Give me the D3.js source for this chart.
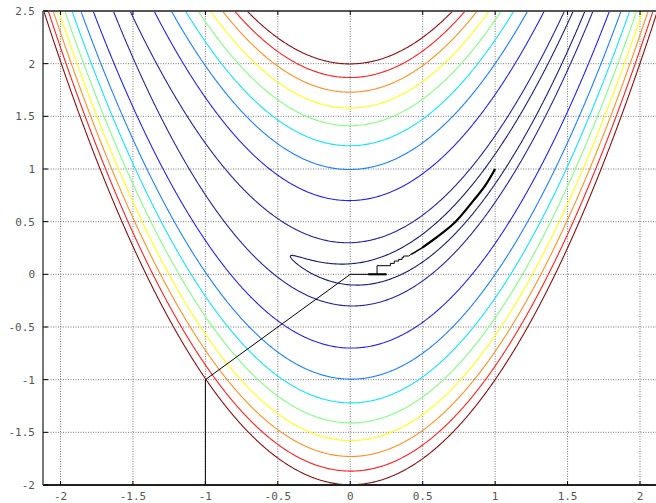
<!DOCTYPE html>
<html>
<head>
<meta charset="utf-8">
<script src="https://cdn.jsdelivr.net/npm/d3@7"></script>
<style>
  body { margin: 0; background: #fff; }
  svg { display: block; }
  .tick-label { font-family: "DejaVu Sans Mono", monospace; font-size: 11px; fill: #555; }
</style>
</head>
<body>
<div id="chart"></div>
<script>
// contour levels of the Rosenbrock function and their colours
var levels = [2, 10, 50, 100, 150, 200, 250, 300, 350, 400];
var levelColors = ["#1a1a78", "#2222a8", "#2424ee", "#1a80ff", "#10e4ff",
                   "#80ff80", "#ffff10", "#ff9020", "#ff2020", "#8a1010"];

// tick labels
var xTicks = [-2, -1.5, -1, -0.5, 0, 0.5, 1, 1.5, 2];
var yTicks = [-2, -1.5, -1, -0.5, 0, 0.5, 1, 1.5, 2, 2.5];

// search path
var pathX = [-1, -1, 0, 0.25, 0.125, 0.185, 0.185, 0.277, 0.277, 0.304, 0.304, 0.334, 0.334, 0.358, 0.358, 0.369, 0.369, 0.403, 0.42];
var pathY = [-2, -1, 0, 0, 0, 0, 0.082, 0.082, 0.104, 0.104, 0.126, 0.126, 0.142, 0.142, 0.161, 0.161, 0.174, 0.174, 0.19];
// final part of the path, dense small steps (drawn heavier)
var tailX = [0.42, 0.5, 0.6, 0.727, 0.85, 0.93, 1.0];
var tailY = [0.19, 0.256, 0.355, 0.5, 0.7, 0.84, 1.0];

var width = 656, height = 503;
var plot = { left: 43, right: 660, top: 11, bottom: 485 };

var svg = d3.select("#chart").append("svg")
    .attr("width", width)
    .attr("height", height);

var x = d3.scaleLinear().domain([-2, 2]).range([60.5, 640]);
var y = d3.scaleLinear().domain([-2, 2.5]).range([485, 11]);

svg.append("clipPath").attr("id", "clip")
    .append("rect")
    .attr("x", plot.left).attr("y", plot.top)
    .attr("width", plot.right - plot.left).attr("height", plot.bottom - plot.top);

// grid
var grid = svg.append("g").attr("class", "grid");
grid.selectAll(".gx").data(xTicks).enter().append("line")
    .attr("x1", function(d) { return x(d); }).attr("x2", function(d) { return x(d); })
    .attr("y1", plot.top).attr("y2", plot.bottom)
    .attr("stroke", "#777").attr("stroke-width", 1)
    .attr("stroke-dasharray", "1,1.5");
grid.selectAll(".gy").data(yTicks).enter().append("line")
    .attr("y1", function(d) { return y(d); }).attr("y2", function(d) { return y(d); })
    .attr("x1", plot.left).attr("x2", plot.right)
    .attr("stroke", "#777").attr("stroke-width", 1)
    .attr("stroke-dasharray", "1,1.5");

// function sampled on a grid a bit larger than the plot so borders stay clipped
function rosen(a, b) { return (1 - a) * (1 - a) + 100 * (b - a * a) * (b - a * a); }
var step = 0.01, gx0 = -2.5, gy0 = -2.4;
var nx = 501, ny = 531;
var values = new Array(nx * ny);
for (var j = 0; j < ny; j++) {
    for (var i = 0; i < nx; i++) {
        values[j * nx + i] = rosen(gx0 + i * step, gy0 + j * step);
    }
}

var contours = d3.contours().size([nx, ny]).thresholds(levels)(values);

var proj = d3.geoTransform({
    point: function(px, py) {
        this.stream.point(x(gx0 + (px - 0.5) * step), y(gy0 + (py - 0.5) * step));
    }
});
var geoPath = d3.geoPath(proj);

svg.append("g")
    .attr("clip-path", "url(#clip)")
    .selectAll("path")
    .data(contours)
    .enter().append("path")
    .attr("d", geoPath)
    .attr("fill", "none")
    .attr("stroke", function(d) { return levelColors[levels.indexOf(d.value)]; })
    .attr("stroke-width", 1.1);

// search path
var line = d3.line()
    .x(function(d) { return x(d[0]); })
    .y(function(d) { return y(d[1]); });

svg.append("path")
    .datum(pathX.map(function(v, i) { return [v, pathY[i]]; }))
    .attr("d", line)
    .attr("fill", "none")
    .attr("stroke", "#000")
    .attr("stroke-width", 1);

var tail = tailX.map(function(v, i) { return [v, tailY[i]]; });
var smooth = d3.line()
    .x(function(d) { return x(d[0]); })
    .y(function(d) { return y(d[1]); })
    .curve(d3.curveCatmullRom);

// first part of the tail is lighter, the rest heavier
svg.append("path")
    .datum(tail.slice(0, 3))
    .attr("d", smooth)
    .attr("fill", "none")
    .attr("stroke", "#000")
    .attr("stroke-width", 1.5);
svg.append("path")
    .datum(tail.slice(1))
    .attr("d", smooth)
    .attr("fill", "none")
    .attr("stroke", "#000")
    .attr("stroke-width", 2.2);

// thicker segment on y = 0 where the path goes back and forth
svg.append("line")
    .attr("x1", x(0.125)).attr("x2", x(0.25))
    .attr("y1", y(0)).attr("y2", y(0))
    .attr("stroke", "#000").attr("stroke-width", 2);

// border
svg.append("line").attr("x1", plot.left).attr("x2", plot.right)
    .attr("y1", plot.top).attr("y2", plot.top)
    .attr("stroke", "#555").attr("stroke-width", 2);
svg.append("line").attr("x1", plot.left).attr("x2", plot.right)
    .attr("y1", plot.bottom).attr("y2", plot.bottom)
    .attr("stroke", "#222").attr("stroke-width", 2);
svg.append("line").attr("x1", plot.left).attr("x2", plot.left)
    .attr("y1", plot.top).attr("y2", plot.bottom)
    .attr("stroke", "#777").attr("stroke-width", 2);

// tick marks
var ticks = svg.append("g");
xTicks.forEach(function(t) {
    ticks.append("line").attr("x1", x(t)).attr("x2", x(t))
        .attr("y1", plot.bottom).attr("y2", plot.bottom - 4)
        .attr("stroke", "#000").attr("stroke-width", 1);
    ticks.append("line").attr("x1", x(t)).attr("x2", x(t))
        .attr("y1", plot.top).attr("y2", plot.top + 4)
        .attr("stroke", "#000").attr("stroke-width", 1);
});
yTicks.forEach(function(t) {
    ticks.append("line").attr("x1", plot.left).attr("x2", plot.left + 5)
        .attr("y1", y(t)).attr("y2", y(t))
        .attr("stroke", "#000").attr("stroke-width", 1);
});

// labels
svg.selectAll(".xl").data(xTicks).enter().append("text")
    .attr("class", "tick-label")
    .attr("x", function(d) { return x(d); })
    .attr("y", 500)
    .attr("text-anchor", "middle")
    .text(function(d) { return d; });
svg.selectAll(".yl").data(yTicks).enter().append("text")
    .attr("class", "tick-label")
    .attr("x", 35)
    .attr("y", function(d) { return y(d) + 4; })
    .attr("text-anchor", "end")
    .text(function(d) { return d; });
</script>
</body>
</html>
